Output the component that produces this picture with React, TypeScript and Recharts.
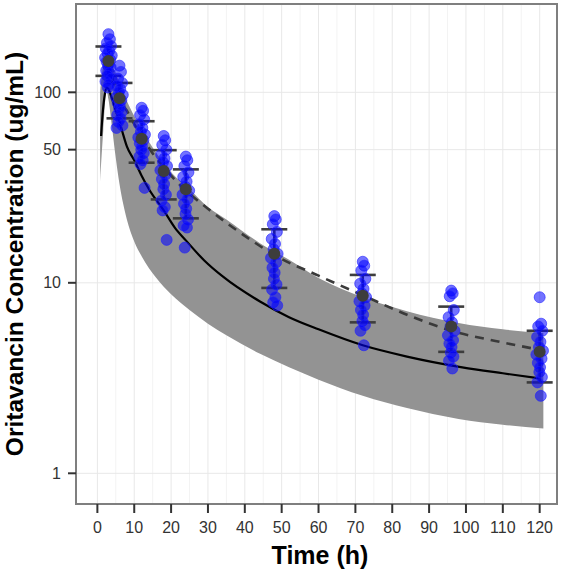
import {
  ComposedChart, Area, Line, Scatter, XAxis, YAxis,
  CartesianGrid, ReferenceArea, ErrorBar,
} from 'recharts'

const FONT = '"Liberation Sans", Arial, Helvetica, sans-serif'

// 90% prediction band
const bandTimes = [0.75, 1.6, 2.5, 3, 4, 5, 6, 7, 8, 10, 12, 16, 20, 25, 30, 35, 44, 52, 60, 72, 84, 98, 110, 121]
const bandLow = [34, 63, 102, 92, 65, 45, 33, 26, 21.5, 16.5, 13.8, 10.6, 8.7, 7.2, 6.1, 5.3, 4.25, 3.6, 3.1, 2.55, 2.2, 1.93, 1.8, 1.72]
const bandHigh = [100, 140, 158, 155, 140, 125, 112, 100, 90, 75, 64, 48, 38, 31, 25, 21.5, 16.2, 13.2, 10.6, 8.4, 7.1, 6.15, 5.7, 5.45]

// predicted median (solid)
const predTimes = [1, 1.5, 2, 2.5, 3, 4, 5, 6, 7, 8, 10, 12, 14, 18, 21, 24, 29, 34, 44, 52, 60, 72, 84, 99, 110, 120]
const predConc = [59, 80, 97, 106, 104, 92, 80, 70, 60, 52, 44, 36.5, 31, 24, 19.5, 16.7, 13.1, 10.8, 8.0, 6.6, 5.7, 4.7, 4.1, 3.6, 3.35, 3.15]

// observed trend (dashed)
const obsTrendTimes = [3, 4, 6, 8, 10, 12, 14, 16, 18, 20, 24, 30, 36, 42, 48, 60, 72, 84, 96, 108, 120]
const obsTrendConc = [146, 120, 92, 80, 68, 59, 51, 45, 40.5, 36.5, 30.5, 24.5, 20, 16.6, 14, 10.9, 8.6, 6.8, 5.6, 4.95, 4.45]

// sampling times and observed concentrations
const sampleTimes = [3, 6, 12, 18, 24, 48, 72, 96, 120]
const observed = [
  [202, 190, 182, 175, 170, 165, 160, 156, 152, 148, 145, 142, 138, 135, 130, 126, 122, 118, 114, 110, 106],
  [138, 128, 118, 112, 108, 104, 100, 97, 94, 91, 88, 85, 82, 79, 76, 73, 70, 67, 65],
  [83, 80, 76, 72, 68, 65, 62, 60, 58, 56, 54, 52, 50, 48, 46, 44, 42, 31.5],
  [59, 56, 53, 50, 47, 45, 43, 41, 39, 37, 35, 33, 31, 29, 27, 25, 24, 16.8],
  [46, 44, 41, 38, 36, 34, 32, 30.5, 29, 27.5, 26, 24.5, 23, 21.5, 20, 19.5, 15.3],
  [22.4, 21.5, 20.3, 18.5, 17, 16, 15, 14.2, 13.5, 12.8, 12, 11.3, 10.5, 9.8, 9.2, 8.4, 7.9, 7.6],
  [12.9, 12.3, 11.6, 10.5, 9.9, 9.3, 8.8, 8.4, 8, 7.6, 7.2, 6.8, 6.3, 6, 5.6, 4.7],
  [9.1, 8.8, 8.5, 7.2, 6.6, 6.2, 5.9, 5.6, 5.3, 5, 4.8, 4.6, 4.3, 4.1, 3.9, 3.55],
  [8.4, 6.1, 5.9, 5.6, 5.2, 4.9, 4.6, 4.4, 4.2, 4, 3.8, 3.6, 3.4, 3.2, 3, 2.55],
]
// small horizontal offsets of the dots around the nominal time
const jitter = [0, 0.4, -0.4, 0.7, -0.7, 0.2, -0.2, 0.9, -0.9, 0.5, -0.5, 0.1, -0.1, 0.6, -0.6, 0.3, -0.3, 0.8, -0.8, 0.15, -0.15]

// mean +/- SD
const meanConc = [146, 93, 57, 38.6, 31, 14.2, 8.55, 5.9, 4.34]
const sdLow = [122, 73, 42.7, 27.4, 21.8, 9.4, 6.2, 4.34, 3.0]
const sdHigh = [174, 112, 70.5, 49.7, 39.4, 19.1, 11.0, 7.5, 5.6]

const xTicks = [0, 10, 20, 30, 40, 50, 60, 70, 80, 90, 100, 110, 120]
const xMinor = [5, 15, 25, 35, 45, 55, 65, 75, 85, 95, 105, 115]
const yTicks = [1, 10, 50, 100]
const X_DOMAIN: [number, number] = [-5.8, 124.7]
const Y_DOMAIN: [number, number] = [0.69, 290.8]

const bandData = bandTimes.map((t, i) => ({ t, range: [bandLow[i], bandHigh[i]] }))
const predData = predTimes.map((t, i) => ({ t, c: predConc[i] }))
const trendData = obsTrendTimes.map((t, i) => ({ t, c: obsTrendConc[i] }))
const obsData = sampleTimes.flatMap((t, i) =>
  observed[i].map((c, j) => ({ t: t + jitter[j % jitter.length], c })))
const meanData = sampleTimes.map((t, i) => ({
  t, c: meanConc[i], err: [meanConc[i] - sdLow[i], sdHigh[i] - meanConc[i]],
}))

const BlueDot = (p: any) => (
  <circle cx={p.cx} cy={p.cy} r={5.5} fill="#0000ff" fillOpacity={0.55}
    stroke="#1f1fff" strokeOpacity={0.6} strokeWidth={1} />
)
const MeanDot = (p: any) => <circle cx={p.cx} cy={p.cy} r={6} fill="#3d3d3d" />

const tickStyle = { fontSize: 16, fill: '#333', fontFamily: FONT }

export default function App() {
  return (
    <div style={{ position: 'absolute', left: 0, top: 0, width: 566, height: 572, background: '#fff' }}>
      <ComposedChart width={566} height={572} margin={{ top: 4, right: 9, bottom: 0, left: 0 }}>
        <CartesianGrid stroke="#f3f3f3" strokeWidth={1} horizontal={false} verticalValues={xMinor} />
        <CartesianGrid stroke="#e8e8e8" strokeWidth={1} />
        <XAxis type="number" dataKey="t" domain={X_DOMAIN} allowDataOverflow ticks={xTicks}
          interval={0} height={68} axisLine={false} tickSize={9} tickMargin={9}
          tickLine={{ stroke: '#333', strokeWidth: 2 }} tick={tickStyle} />
        <YAxis type="number" scale="log" domain={Y_DOMAIN} allowDataOverflow ticks={yTicks}
          interval={0} width={76} axisLine={false} tickSize={8} tickMargin={7}
          tickLine={{ stroke: '#333', strokeWidth: 2 }} tick={tickStyle} />
        <Area data={bandData} dataKey="range" type="monotone" fill="#939393" fillOpacity={1}
          stroke="none" isAnimationActive={false} />
        <Line data={predData} dataKey="c" type="monotone" stroke="#000" strokeWidth={2.2}
          dot={false} isAnimationActive={false} />
        <Line data={trendData} dataKey="c" type="monotone" stroke="#3a3a3a" strokeWidth={2.6}
          strokeDasharray="9 7" dot={false} isAnimationActive={false} />
        <Scatter data={obsData} dataKey="c" shape={BlueDot} isAnimationActive={false} />
        <Scatter data={meanData} dataKey="c" shape={MeanDot} isAnimationActive={false}>
          <ErrorBar dataKey="err" direction="y" width={13} stroke="#3d3d3d" strokeWidth={2.6}
            isAnimationActive={false} />
        </Scatter>
        <ReferenceArea x1={X_DOMAIN[0]} x2={X_DOMAIN[1]} y1={Y_DOMAIN[0]} y2={Y_DOMAIN[1]}
          fill="none" fillOpacity={0} stroke="#7f7f7f" strokeWidth={2} ifOverflow="visible" />
      </ComposedChart>
      <svg width={566} height={572} style={{ position: 'absolute', left: 0, top: 0, pointerEvents: 'none' }}>
        <text x={320} y={564} textAnchor="middle" fontFamily={FONT} fontWeight="bold" fontSize={25} fill="#000">
          Time (h)
        </text>
        <text transform="translate(23,254) rotate(-90)" textAnchor="middle" fontFamily={FONT}
          fontWeight="bold" fontSize={24.5} fill="#000">
          Oritavancin Concentration (ug/mL)
        </text>
      </svg>
    </div>
  )
}
